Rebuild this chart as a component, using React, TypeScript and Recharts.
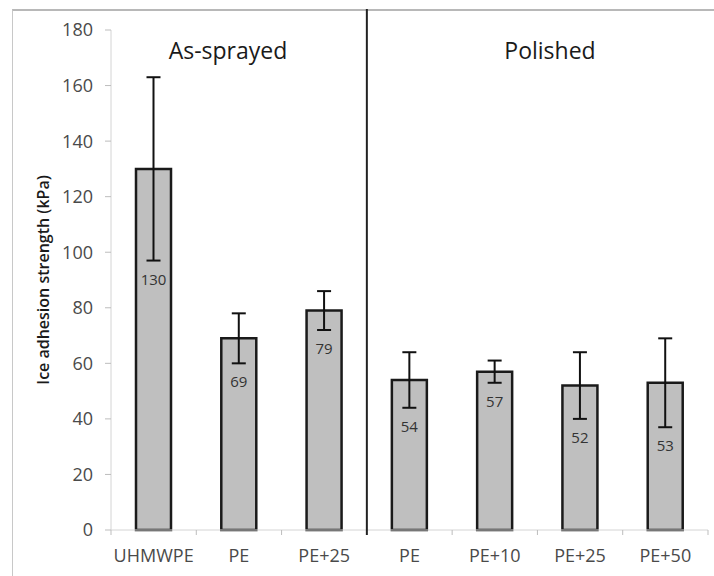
import React from 'react';
import { BarChart, Bar, XAxis, YAxis, ErrorBar, LabelList } from 'recharts';

const categories = ['UHMWPE', 'PE', 'PE+25', 'PE', 'PE+10', 'PE+25', 'PE+50'];
const strength = [130, 69, 79, 54, 57, 52, 53];
const errors = [33, 9, 7, 10, 4, 12, 16];
const groups = ['As-sprayed', 'As-sprayed', 'As-sprayed', 'Polished', 'Polished', 'Polished', 'Polished'];
const yTicks = [0, 20, 40, 60, 80, 100, 120, 140, 160, 180];

const data = categories.map((name, i) => ({
  key: `${name}-${i}`,
  name,
  value: strength[i],
  err: errors[i],
  group: groups[i],
}));

const FONT = '"Open Sans", "Noto Sans", sans-serif';

const XTick = (props: any) => {
  const { x, y, payload, index } = props;
  const half = payload.offset || 0;
  const axisY = y - 8;
  const isGroupEnd = index < data.length - 1 && data[index].group !== data[index + 1].group;
  return (
    <g>
      {index === 0 && (
        <line x1={x - half} x2={x - half} y1={axisY} y2={axisY + 5} stroke="#bdbdbd" />
      )}
      {isGroupEnd ? (
        <line x1={x + half} x2={x + half} y1={9} y2={axisY + 5} stroke="#222" strokeWidth={2} />
      ) : (
        <line x1={x + half} x2={x + half} y1={axisY} y2={axisY + 5} stroke="#bdbdbd" />
      )}
      <text x={x} y={y + 24} textAnchor="middle" fontSize={18} fill="#4a4a4a" fontFamily={FONT}>
        {data[index].name}
      </text>
    </g>
  );
};

const ValueLabel = (props: any) => {
  const { x, y, width, height, value, index } = props;
  const pxPerUnit = height / value;
  const ly = y + errors[index] * pxPerUnit + 20;
  return (
    <text x={x + width / 2} y={ly} textAnchor="middle" dominantBaseline="middle" fontSize={15} fill="#333" fontFamily={FONT}>
      {value}
    </text>
  );
};

export default function App() {
  return (
    <div style={{ position: 'absolute', left: 0, top: 0, width: 714, height: 576, background: '#fff', overflow: 'hidden' }}>
      <div style={{ position: 'absolute', left: 12, top: 9, width: 710, height: 580, borderLeft: '1px solid #c8c8c8', borderTop: '2px solid #b8b8b8' }} />
      <BarChart
        width={714}
        height={576}
        data={data}
        margin={{ top: 30, right: 6, bottom: 16, left: 0 }}
        barCategoryGap={0}
        style={{ position: 'absolute', left: 0, top: 0, fontFamily: FONT }}
      >
        <XAxis
          dataKey="key"
          height={30}
          interval={0}
          tickLine={false}
          axisLine={{ stroke: '#d4d4d4' }}
          tick={<XTick />}
        />
        <YAxis
          width={111}
          domain={[0, 180]}
          ticks={yTicks}
          interval={0}
          tickSize={6}
          tickMargin={12}
          tickLine={{ stroke: '#bdbdbd' }}
          axisLine={{ stroke: '#d4d4d4' }}
          tick={{ fontSize: 18, fill: '#4a4a4a', fontFamily: FONT }}
          label={{
            value: 'Ice adhesion strength (kPa)',
            angle: -90,
            position: 'insideLeft',
            offset: 43,
            style: { textAnchor: 'middle', fontSize: 16, fontWeight: 600, fill: '#1a1a1a', fontFamily: FONT },
          }}
        />
        <Bar dataKey="value" barSize={35} fill="#bfbfbf" stroke="#1a1a1a" strokeWidth={2.5} isAnimationActive={false}>
          <ErrorBar dataKey="err" width={7} stroke="#111" strokeWidth={2} direction="y" />
          <LabelList dataKey="value" content={<ValueLabel />} />
        </Bar>
      </BarChart>
      <div style={{ position: 'absolute', left: 228, top: 50, transform: 'translate(-50%, -50%)', fontSize: 23, color: '#1a1a1a', fontFamily: FONT, whiteSpace: 'nowrap' }}>
        As-sprayed
      </div>
      <div style={{ position: 'absolute', left: 550, top: 50, transform: 'translate(-50%, -50%)', fontSize: 23, color: '#1a1a1a', fontFamily: FONT, whiteSpace: 'nowrap' }}>
        Polished
      </div>
    </div>
  );
}
